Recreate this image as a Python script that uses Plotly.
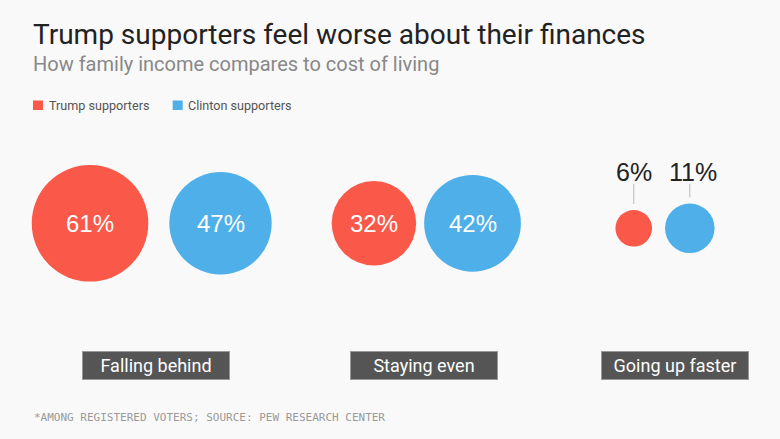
import math
import plotly.graph_objects as go

# ---- data ----
categories = ["Falling behind", "Staying even", "Going up faster"]
trump = [61, 32, 6]
clinton = [47, 42, 11]
series_names = ["Trump supporters", "Clinton supporters"]

# ---- style / layout constants ----
W, H = 780, 439
BG = "#f9f9f9"
RED = "#fa5849"
BLUE = "#4fafe9"
K = 7.465                      # radius px per sqrt(percent)
group_cx = [151.7, 426.3, 665.0]
group_gap = [21, 8, 13]
group_cy = [223.3, 223.3, 228.3]
box_cx = [156.3, 423.8, 674.5]
BOX_Y = 365.5
FONT = "Roboto"

def radius(v):
    return K * math.sqrt(v)

rx, bx, ry, by = [], [], [], []
for i in range(len(categories)):
    rr, rb = radius(trump[i]), radius(clinton[i])
    total = 2 * rr + group_gap[i] + 2 * rb
    left = group_cx[i] - total / 2
    rx.append(left + rr)
    bx.append(left + 2 * rr + group_gap[i] + rb)
    ry.append(group_cy[i])
    by.append(group_cy[i])

sizeref = 1 / (2 * K * K)

fig = go.Figure()
for xs, ys, vals, col, name in [(rx, ry, trump, RED, series_names[0]),
                                (bx, by, clinton, BLUE, series_names[1])]:
    fig.add_trace(go.Scatter(
        x=xs, y=ys, mode="markers", name=name, showlegend=False,
        marker=dict(size=vals, sizemode="area", sizeref=sizeref, color=col,
                    opacity=1, line=dict(width=0)),
        hoverinfo="skip"))

annotations = []
shapes = []
for xs, ys, vals in [(rx, ry, trump), (bx, by, clinton)]:
    for x, y, v in zip(xs, ys, vals):
        r = radius(v)
        if r > 30:
            annotations.append(dict(x=x, y=y, text=f"{v}%", showarrow=False,
                                    font=dict(family="Liberation Sans", size=24, color="white"),
                                    xanchor="center", yanchor="middle"))
        else:
            annotations.append(dict(x=x + (3 if v >= 10 else 0), y=172, text=f"{v}%", showarrow=False,
                                    font=dict(family="Liberation Sans", size=25, color="#222"),
                                    xanchor="center", yanchor="middle"))
            shapes.append(dict(type="line", x0=x, x1=x, y0=184, y1=y - r - 6,
                               line=dict(color="#bbb", width=1)))

for cx, cat in zip(box_cx, categories):
    annotations.append(dict(x=cx, y=BOX_Y, text=cat, showarrow=False,
                            font=dict(family=FONT, size=18, color="white"),
                            bgcolor="#555555", bordercolor="#999", borderwidth=1,
                            width=144, height=25, xanchor="center", yanchor="middle"))

# title / subtitle
annotations.append(dict(x=31, y=34, text="Trump supporters feel worse about their finances",
                        showarrow=False, xanchor="left", yanchor="middle",
                        font=dict(family=FONT, size=28, color="#222")))
annotations.append(dict(x=31, y=64, text="How family income compares to cost of living",
                        showarrow=False, xanchor="left", yanchor="middle",
                        font=dict(family=FONT, size=20, color="#888")))

# legend
leg_x = [33, 172.7]
for lx, col, name in zip(leg_x, [RED, BLUE], series_names):
    shapes.append(dict(type="rect", x0=lx, x1=lx + 10, y0=100.5, y1=110,
                       fillcolor=col, line=dict(width=0)))
    annotations.append(dict(x=lx + 13.5, y=105.5, text=name, showarrow=False,
                            xanchor="left", yanchor="middle",
                            font=dict(family=FONT, size=12.6, color="#555")))

# footnote
annotations.append(dict(x=32, y=417, text="*AMONG REGISTERED VOTERS; SOURCE: PEW RESEARCH CENTER",
                        showarrow=False, xanchor="left", yanchor="middle",
                        font=dict(family="DejaVu Sans Mono", size=11, color="#999")))

fig.update_layout(
    width=W, height=H, margin=dict(l=0, r=0, t=0, b=0),
    paper_bgcolor=BG, plot_bgcolor=BG,
    xaxis=dict(range=[0, W], visible=False, fixedrange=True),
    yaxis=dict(range=[H, 0], visible=False, fixedrange=True),
    annotations=annotations, shapes=shapes, showlegend=False,
)
fig.write_html("out.html", config={"displayModeBar": False})
